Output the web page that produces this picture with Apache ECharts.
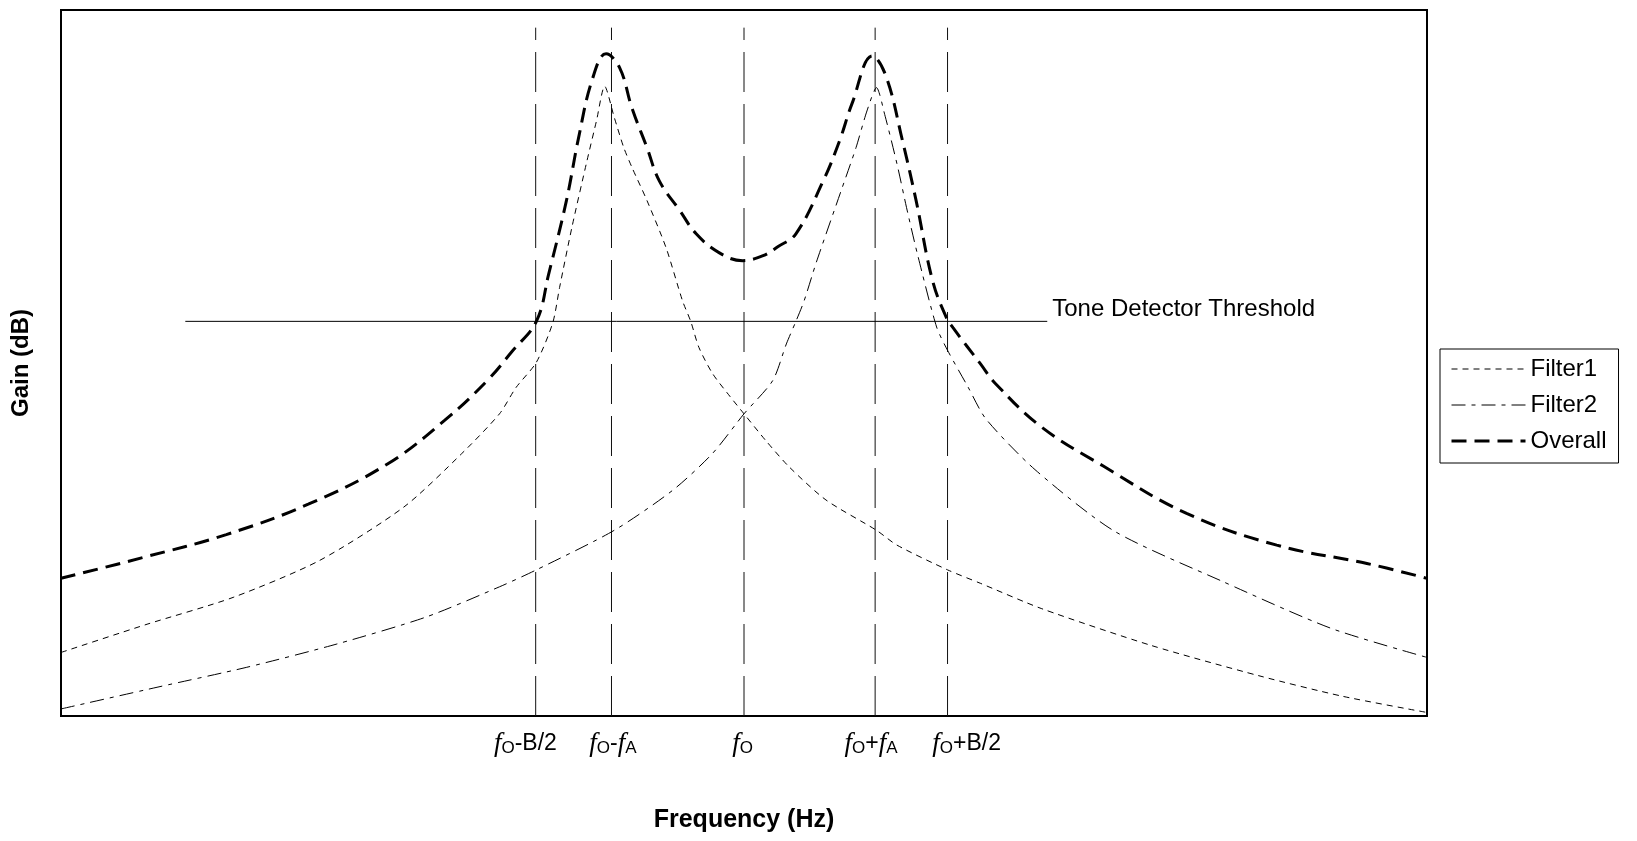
<!DOCTYPE html>
<html>
<head>
<meta charset="utf-8">
<script src="https://cdn.jsdelivr.net/npm/echarts@6/dist/echarts.min.js"></script>
<style>
html,body{margin:0;padding:0;background:#fff;}
#c{width:1637px;height:841px;}
</style>
</head>
<body>
<div id="c"></div>
<script>
// ---- data (x: 0..100 across the plot, y: 0..100 gain units) ----
const overallX = [0, 6.1, 12.1, 18.1, 23.9, 28.1, 31.2, 33.0, 34.8, 35.7, 37.0, 37.9, 38.9, 39.9, 40.9, 41.8, 42.9, 43.8, 45.3, 46.5, 48.2, 49.9, 51.4, 52.5, 53.8, 55.8, 57.0, 57.9, 59.4, 60.4, 61.6, 62.6, 63.8, 64.8, 65.3, 67.3, 68.4, 71.8, 76.3, 82.4, 89.0, 95.6, 100];
const overallY = [19.5, 22.5, 25.7, 30.0, 35.7, 41.9, 47.5, 51.6, 55.9, 62.6, 73.0, 82.0, 90.2, 93.8, 91.8, 86.1, 80.5, 75.8, 71.6, 68.3, 65.6, 64.5, 65.2, 66.5, 68.3, 75.8, 81.5, 86.7, 93.5, 90.6, 81.5, 73.0, 61.7, 56.5, 55.0, 49.9, 47.1, 40.9, 35.4, 28.7, 24.2, 21.6, 19.5];

const filter1X = [0, 6.3, 12.6, 18.9, 25.1, 29.3, 32.1, 33.3, 34.8, 36.0, 36.5, 37.4, 38.5, 39.2, 39.8, 40.5, 41.2, 41.8, 42.9, 44.3, 45.5, 46.1, 46.7, 47.7, 49.0, 50.0, 51.6, 53.3, 56.0, 59.7, 61.2, 64.9, 67.3, 71.8, 79.8, 87.7, 93.8, 100];
const filter1Y = [9.0, 13.0, 16.8, 22.0, 29.6, 37.1, 42.8, 46.5, 50.1, 55.7, 60.7, 69.2, 78.6, 84.3, 89.2, 84.8, 80.5, 77.7, 73.0, 66.3, 58.8, 55.9, 52.2, 48.5, 45.2, 42.8, 39.0, 35.3, 30.6, 26.3, 24.2, 20.7, 18.8, 15.2, 10.0, 5.7, 2.8, 0.5];

const filter2X = [0, 7.1, 13.6, 20.2, 26.7, 32.1, 34.8, 40.5, 44.8, 47.7, 50.0, 52.1, 53.1, 53.8, 54.4, 55.3, 57.2, 58.2, 59.0, 59.7, 60.3, 61.2, 61.9, 62.7, 64.1, 64.9, 66.4, 67.7, 71.3, 77.1, 85.1, 93.0, 100];
const filter2Y = [1.0, 4.1, 6.9, 10.2, 14.0, 18.3, 20.7, 26.3, 32.0, 37.2, 42.8, 47.5, 52.7, 55.9, 58.8, 64.3, 74.9, 80.5, 85.7, 89.0, 85.2, 78.2, 72.0, 65.4, 55.1, 51.8, 46.6, 42.1, 34.9, 26.2, 19.0, 12.4, 8.3];

const markerFreqs = [34.75, 40.3, 50.0, 59.6, 64.9];   // f0-B/2, f0-fA, f0, f0+fA, f0+B/2
const markerTop = 97.5;
const thresholdLevel = 55.9;
const thresholdSpan = [9.1, 72.2];
const thresholdText = 'Tone Detector Threshold';

const tickLabelPos = [34.0, 40.4, 49.9, 59.3, 66.3];
const tickLabels = ['{f|f}{s|O}-B/2', '{f|f}{s|O}-{f|f}{s|A}', '{f|f}{s|O}', '{f|f}{s|O}+{f|f}{s|A}', '{f|f}{s|O}+B/2'];

const seriesNames = ['Filter1', 'Filter2', 'Overall'];

// ---- chart ----
const FONT = "'Liberation Sans', Arial, sans-serif";
const pairs = (xs, ys) => xs.map((x, i) => [x, ys[i]]);
const styles = {
  Filter1: {color: '#000', width: 1, type: [6, 5]},
  Filter2: {color: '#000', width: 1, type: [14, 6, 4, 6]},
  Overall: {color: '#000', width: 3, type: [15, 8]}
};
const smoothBy = {Filter1: 0.25, Filter2: 0.25, Overall: 0.4};
const dataBy = {
  Filter1: pairs(filter1X, filter1Y),
  Filter2: pairs(filter2X, filter2Y),
  Overall: pairs(overallX, overallY)
};

const chart = echarts.init(document.getElementById('c'), null, {renderer: 'canvas'});

const series = [];
markerFreqs.forEach((f, i) => {
  series.push({
    name: 'marker' + i, type: 'line', data: [[f, 0], [f, markerTop]],
    symbol: 'none', silent: true, z: 1,
    lineStyle: {color: '#111', width: 1, type: [40, 12]}
  });
});
series.push({
  name: 'Threshold', type: 'line', silent: true, z: 1,
  data: [[thresholdSpan[0], thresholdLevel], [thresholdSpan[1], thresholdLevel]],
  symbol: 'none', lineStyle: {color: '#000', width: 1, type: 'solid'},
  markPoint: {
    symbol: 'rect', symbolSize: 0, silent: true,
    itemStyle: {color: 'transparent'},
    data: [{
      coord: [thresholdSpan[1], thresholdLevel],
      label: {show: true, position: 'right', distance: 5, offset: [0, -12],
        formatter: thresholdText, fontFamily: FONT, fontSize: 24, color: '#000'}
    }]
  }
});
seriesNames.forEach(n => {
  series.push({
    name: n, type: 'line', data: dataBy[n], symbol: 'none', z: 3,
    smooth: smoothBy[n],
    lineStyle: styles[n], itemStyle: {color: '#000'}, silent: true
  });
});

const option = {
  animation: false,
  backgroundColor: '#fff',
  grid: {left: 61, top: 10, width: 1366, height: 706, show: true,
    borderColor: '#000', borderWidth: 2, backgroundColor: 'transparent'},
  xAxis: {
    type: 'value', min: 0, max: 100,
    name: 'Frequency (Hz)', nameLocation: 'middle', nameGap: 92,
    nameTextStyle: {fontFamily: FONT, fontWeight: 'bold', fontSize: 25, color: '#000'},
    axisLine: {show: false}, axisTick: {show: false}, splitLine: {show: false},
    axisLabel: {
      customValues: tickLabelPos,
      formatter: v => { const i = tickLabelPos.indexOf(v); return i >= 0 ? tickLabels[i] : ''; },
      margin: 14, fontFamily: FONT, fontSize: 23, color: '#000',
      rich: {
        f: {fontFamily: "'Liberation Serif', 'DejaVu Serif', serif", fontStyle: 'italic', fontSize: 27, color: '#000'},
        s: {fontFamily: FONT, fontSize: 17, color: '#000', verticalAlign: 'bottom'}
      }
    }
  },
  yAxis: {
    type: 'value', min: 0, max: 100,
    name: 'Gain (dB)', nameLocation: 'middle', nameGap: 28, nameRotate: 90,
    nameTextStyle: {fontFamily: FONT, fontWeight: 'bold', fontSize: 24, color: '#000'},
    axisLine: {show: false}, axisTick: {show: false}, axisLabel: {show: false}, splitLine: {show: false}
  },
  legend: {
    orient: 'vertical', left: 1440, top: 349,
    padding: [8, 12, 10, 10], itemGap: 12, itemWidth: 74, itemHeight: 16,
    borderColor: '#000', borderWidth: 1, backgroundColor: '#fff',
    selectedMode: false,
    textStyle: {fontFamily: FONT, fontSize: 24, color: '#000'},
    data: seriesNames.map(n => ({name: n, lineStyle: styles[n], itemStyle: {opacity: 0}}))
  },
  series: series
};
chart.setOption(option);
</script>
</body>
</html>
